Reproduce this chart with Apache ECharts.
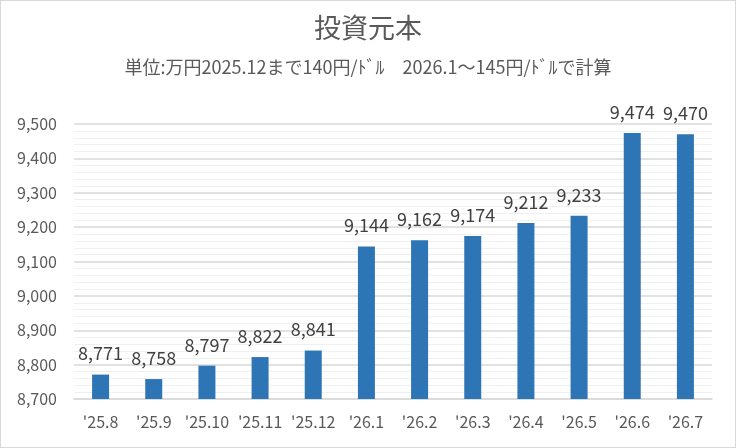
<!DOCTYPE html>
<html><head><meta charset="utf-8">
<script src="https://cdn.jsdelivr.net/npm/echarts@6/dist/echarts.min.js"></script>
<style>html,body{margin:0;padding:0;background:#fff}#c{width:736px;height:448px;box-sizing:border-box;border:1px solid #d9d9d9}</style>
</head><body><div id="c"></div>
<script>
var categories = ["'25.8","'25.9","'25.10","'25.11","'25.12","'26.1","'26.2","'26.3","'26.4","'26.5","'26.6","'26.7"];
var values = [8771, 8758, 8797, 8822, 8841, 9144, 9162, 9174, 9212, 9233, 9474, 9470];
var yMin = 8700, yMax = 9500, yStep = 100;
var titleText = '投資元本';
var subtitleText = '単位:万円2025.12まで140円/ﾄﾞﾙ　2026.1～145円/ﾄﾞﾙで計算';

var FONT = '"Noto Sans CJK JP","Noto Sans",sans-serif';
var chart = echarts.init(document.getElementById('c'));
chart.setOption({
  animation: false,
  textStyle: {fontFamily: FONT},
  title: [
    {text: titleText, left: 'center', top: 8, textStyle: {fontSize: 27, fontWeight: 'normal', color: '#595959', fontFamily: FONT}},
    {text: subtitleText, left: 'center', top: 52, textStyle: {fontSize: 18, fontWeight: 'normal', color: '#595959', fontFamily: FONT}}
  ],
  grid: {left: 73, right: 23, top: 123, bottom: 48, containLabel: false},
  xAxis: {
    type: 'category', data: categories,
    axisLine: {lineStyle: {color: '#d9d9d9', width: 1.5}},
    axisTick: {show: false},
    axisLabel: {color: '#595959', fontSize: 16, margin: 15, interval: 0, fontFamily: FONT}
  },
  yAxis: {
    type: 'value', min: yMin, max: yMax, interval: yStep,
    axisLine: {show: false}, axisTick: {show: false},
    axisLabel: {color: '#595959', fontSize: 16, margin: 17, fontFamily: FONT,
      formatter: function(v){return v.toLocaleString('en-US');}},
    splitLine: {lineStyle: {color: '#d9d9d9', width: 1.5}},
    minorTick: {show: false, splitNumber: 5},
    minorSplitLine: {show: true, lineStyle: {color: '#f0f0f0', width: 1}}
  },
  series: [{
    type: 'bar', data: values, barWidth: 17,
    itemStyle: {color: '#2e75b6'},
    label: {show: true, position: 'top', distance: 12, color: '#404040', fontSize: 18, fontFamily: FONT,
      formatter: function(p){return p.value.toLocaleString('en-US');}}
  }]
});
</script></body></html>
